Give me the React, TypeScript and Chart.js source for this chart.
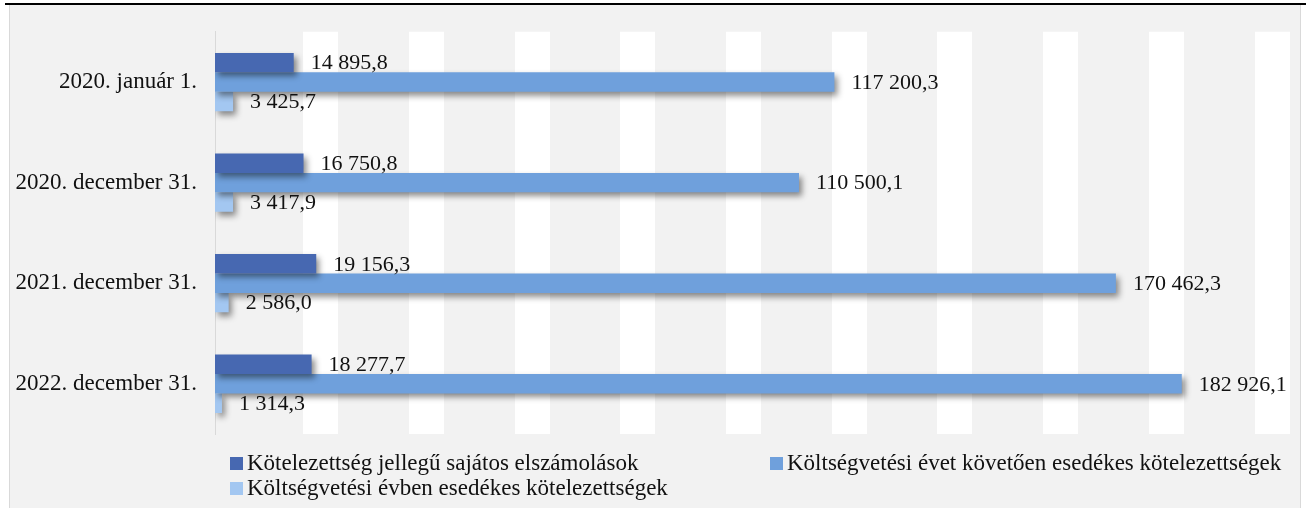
import React, { useEffect, useRef } from 'react';
import { Chart, registerables } from 'chart.js';

Chart.register(...registerables);

const categories = ['2020. január 1.', '2020. december 31.', '2021. december 31.', '2022. december 31.'];
const seriesNames = [
  'Kötelezettség jellegű sajátos elszámolások',
  'Költségvetési évet követően esedékes kötelezettségek',
  'Költségvetési évben esedékes kötelezettségek',
];
const sajatosElszamolasok = [14895.8, 16750.8, 19156.3, 18277.7];
const evetKovetoen = [117200.3, 110500.1, 170462.3, 182926.1];
const evben = [3425.7, 3417.9, 2586.0, 1314.3];
const seriesColors = ['#4768B1', '#6FA0DC', '#A3C7F1'];
const xMin = 0;
const xMax = 200000;
const xStep = 20000;

const FONT = "'Liberation Serif', 'DejaVu Serif', serif";
const LABEL_SIZE = 22;
const TEXT_SIZE = 23;

function fmt(v: number): string {
  const [i, d] = v.toFixed(1).split('.');
  return i.replace(/\B(?=(\d{3})+(?!\d))/g, ' ') + ',' + d;
}

const shadowAndLabels = {
  id: 'shadowAndLabels',
  beforeDatasetsDraw(chart: any) {
    const ctx = chart.ctx;
    ctx.save();
    ctx.shadowColor = 'rgba(0,0,0,0.45)';
    ctx.shadowBlur = 6;
    ctx.shadowOffsetX = 3;
    ctx.shadowOffsetY = 4;
  },
  afterDatasetsDraw(chart: any) {
    const ctx = chart.ctx;
    ctx.restore();
    ctx.save();
    ctx.font = `${LABEL_SIZE}px ${FONT}`;
    ctx.fillStyle = '#111';
    ctx.textBaseline = 'middle';
    ctx.textAlign = 'left';
    chart.data.datasets.forEach((ds: any, di: number) => {
      const meta = chart.getDatasetMeta(di);
      meta.data.forEach((bar: any, i: number) => {
        ctx.fillText(fmt(ds.data[i]), bar.x + 17, bar.y + 1);
      });
    });
    ctx.restore();
  },
};

const customLegend = {
  id: 'customLegend',
  afterDraw(chart: any) {
    const ctx = chart.ctx;
    const slots = [
      { x: 230, y: 463 },
      { x: 770, y: 463 },
      { x: 230, y: 488 },
    ];
    ctx.save();
    ctx.font = `${TEXT_SIZE}px ${FONT}`;
    ctx.textBaseline = 'middle';
    ctx.textAlign = 'left';
    chart.data.datasets.forEach((ds: any, i: number) => {
      const s = slots[i];
      ctx.fillStyle = ds.backgroundColor;
      ctx.fillRect(s.x, s.y - 6, 13, 13);
      ctx.fillStyle = '#111';
      ctx.fillText(ds.label, s.x + 17, s.y + 1);
    });
    ctx.restore();
  },
};

export default function App() {
  const ref = useRef<HTMLCanvasElement | null>(null);

  useEffect(() => {
    if (!ref.current) return;
    const chart = new Chart(ref.current, {
      type: 'bar',
      data: {
        labels: categories,
        datasets: [
          { label: seriesNames[0], data: sajatosElszamolasok, backgroundColor: seriesColors[0] },
          { label: seriesNames[1], data: evetKovetoen, backgroundColor: seriesColors[1] },
          { label: seriesNames[2], data: evben, backgroundColor: seriesColors[2] },
        ],
      },
      options: {
        indexAxis: 'y',
        animation: false,
        responsive: false,
        devicePixelRatio: 1,
        datasets: { bar: { categoryPercentage: 0.58, barPercentage: 1 } },
        layout: { padding: { top: 29, bottom: 74, left: 0, right: 36 } },
        plugins: {
          legend: { display: false },
          tooltip: { enabled: false },
          title: { display: false },
        },
        scales: {
          x: {
            type: 'linear',
            min: xMin,
            max: xMax,
            ticks: { display: false, stepSize: xStep },
            border: { display: false },
            grid: {
              drawTicks: false,
              lineWidth: (c: any) => (c.tick && c.tick.value === 0 ? 0 : 35),
              color: '#ffffff',
            },
            afterFit: (s: any) => { s.height = 0; },
          },
          y: {
            type: 'category',
            ticks: {
              padding: 18,
              color: '#111',
              font: { family: FONT, size: TEXT_SIZE },
            },
            grid: { display: false, drawTicks: false },
            border: { display: true, color: '#d9d9d9', width: 1 },
            afterFit: (s: any) => { s.width = 215; },
          },
        },
      },
      plugins: [shadowAndLabels, customLegend],
    });
    return () => chart.destroy();
  }, []);

  return (
    <div style={{ position: 'absolute', left: 0, top: 0, width: 1308, height: 508, overflow: 'hidden', background: '#ffffff' }}>
      <div style={{ position: 'absolute', left: 5, top: 3, width: 1301, height: 2, background: '#000' }} />
      <div
        style={{
          position: 'absolute',
          left: 9,
          top: 5,
          width: 1290,
          height: 510,
          background: '#f2f2f2',
          borderLeft: '1px solid #d9d9d9',
          borderRight: '1px solid #d9d9d9',
        }}
      />
      <canvas ref={ref} width={1308} height={508} style={{ position: 'absolute', left: 0, top: 0, width: 1308, height: 508 }} />
    </div>
  );
}
